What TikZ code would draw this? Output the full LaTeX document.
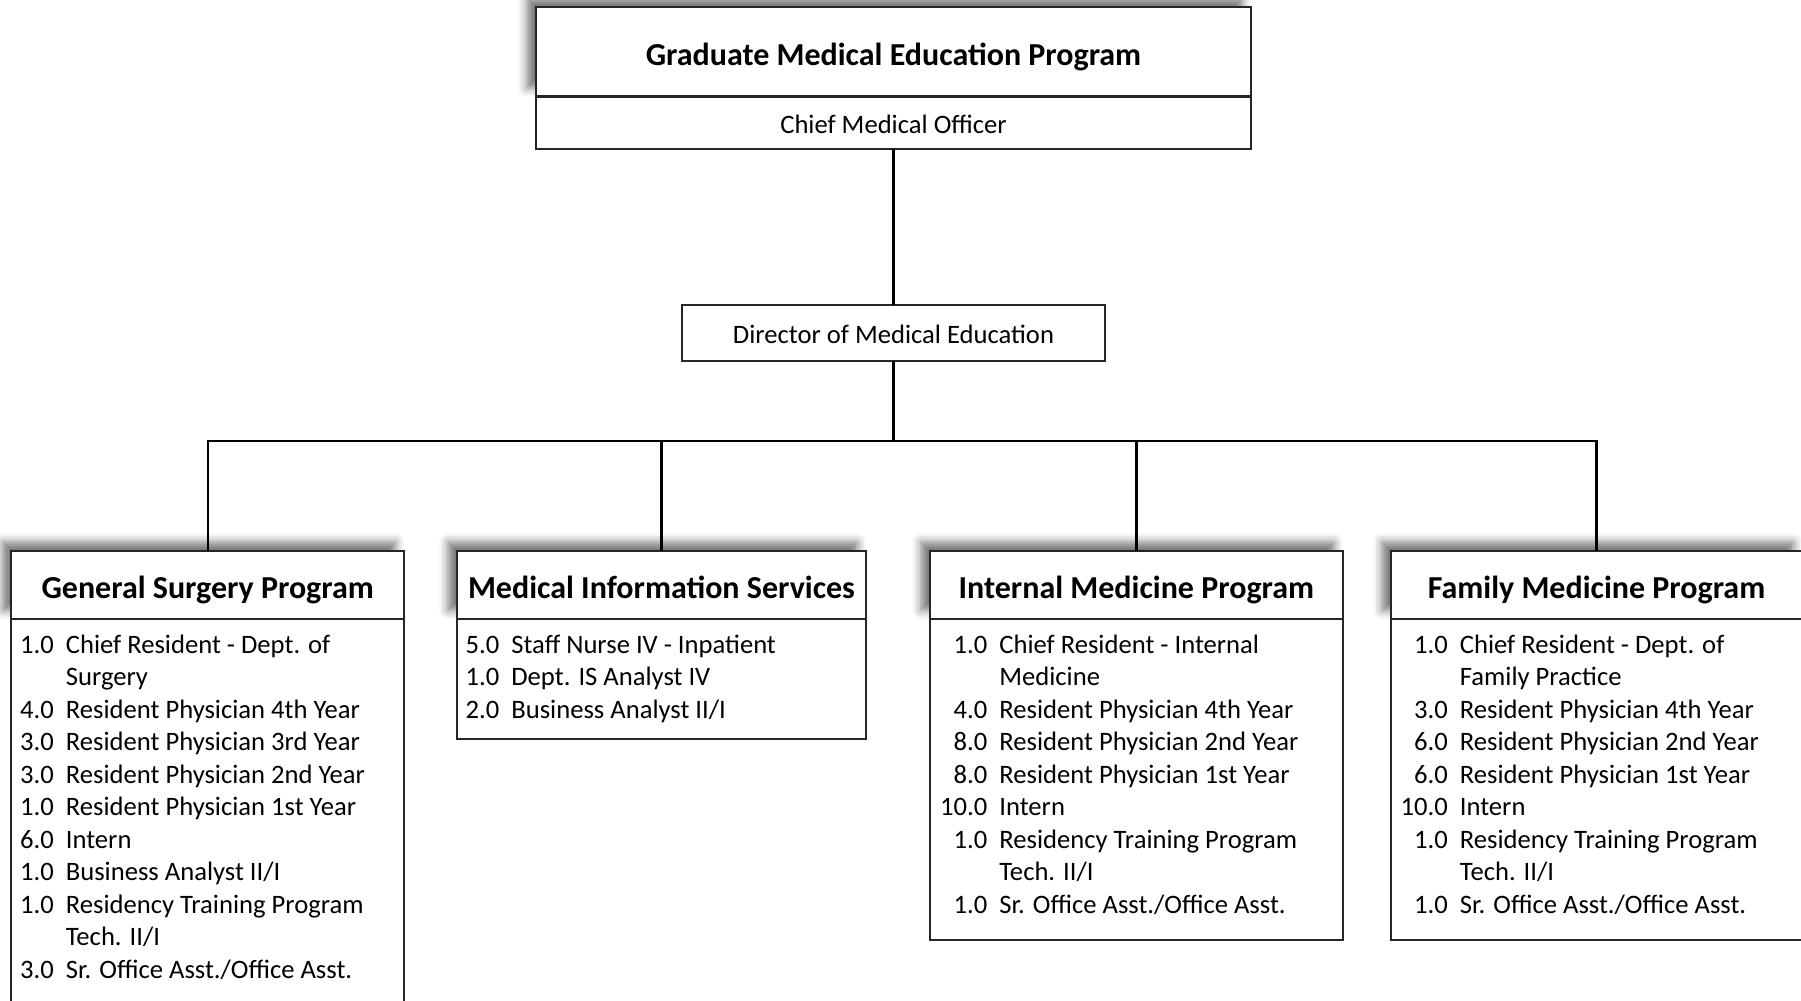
\documentclass[tikz,border=0pt]{standalone}
\usepackage{fontspec}
\setmainfont{Carlito}
\usepackage{array}
\usetikzlibrary{positioning, shadows.blur}
\colorlet{boxline}{black!85}

\newcommand{\listfont}{\fontsize{7.57}{9.25}\selectfont}
\newcommand{\headfont}{\fontsize{9.1}{11}\selectfont\bfseries}

\begin{document}
\begin{tikzpicture}[x=0.01cm, y=-0.01cm,
    box/.style={draw=boxline, line width=0.6pt, fill=white, inner sep=0pt, outer sep=0pt},
    headbox/.style={box, font=\headfont, text height=7.6pt, text depth=0pt,
      blur shadow={shadow xshift=-2.5pt, shadow yshift=2.5pt, shadow blur radius=2.5pt, shadow opacity=55}},
    plainbox/.style={box, font=\listfont, text height=6pt, text depth=0pt},
    staff/.style={anchor=base west, inner sep=0pt, font=\listfont},
    link/.style={draw=black, line width=0.7pt}]
    \useasboundingbox (0,0) rectangle (1801,1001);

    % --- Top: program and its officer
    \node[headbox, minimum width=7.15cm, minimum height=0.895cm] (gme) at (893.5, 51.75) {Graduate Medical Education Program};
    \node[plainbox, minimum width=7.15cm, minimum height=0.525cm, anchor=north] (cmo) at (gme.south) {Chief Medical Officer};

    % --- Middle: director
    \node[plainbox, minimum width=4.23cm, minimum height=0.552cm] (dme) at (893.5, 333) {Director of Medical Education};

    % --- General Surgery (runs off the bottom edge)
    \node[headbox, minimum width=3.925cm, minimum height=0.68cm] (gs) at (207.75, 585) {General Surgery Program};
    \node[box, minimum width=3.925cm, minimum height=3.95cm, anchor=north] (gsbody) at (gs.south) {};
    \node[staff] (gslist) at (19.5, 653) {\begin{tabular}[t]{@{}r@{\hspace{3.4pt}}l@{}}
      1.0 & Chief Resident - Dept. of\\
          & Surgery\\
      4.0 & Resident Physician 4th Year\\
      3.0 & Resident Physician 3rd Year\\
      3.0 & Resident Physician 2nd Year\\
      1.0 & Resident Physician 1st Year\\
      6.0 & Intern\\
      1.0 & Business Analyst II/I\\
      1.0 & Residency Training Program\\
          & Tech. II/I\\
      3.0 & Sr. Office Asst./Office Asst.
    \end{tabular}};

    % --- Medical Information Services
    \node[headbox, minimum width=4.09cm, minimum height=0.68cm] (mis) at (661.5, 585) {Medical Information Services};
    \node[box, minimum width=4.09cm, minimum height=1.195cm, anchor=north] (misbody) at (mis.south) {};
    \node[staff] (mislist) at (465, 653) {\begin{tabular}[t]{@{}r@{\hspace{3.4pt}}l@{}}
      5.0 & Staff Nurse IV - Inpatient\\
      1.0 & Dept. IS Analyst IV\\
      2.0 & Business Analyst II/I
    \end{tabular}};

    % --- Internal Medicine
    \node[headbox, minimum width=4.127cm, minimum height=0.68cm] (im) at (1136.4, 585) {Internal Medicine Program};
    \node[box, minimum width=4.127cm, minimum height=3.205cm, anchor=north] (imbody) at (im.south) {};
    \node[staff] (imlist) at (939.5, 653) {\begin{tabular}[t]{@{}r@{\hspace{3.4pt}}l@{}}
      1.0 & Chief Resident - Internal\\
          & Medicine\\
      4.0 & Resident Physician 4th Year\\
      8.0 & Resident Physician 2nd Year\\
      8.0 & Resident Physician 1st Year\\
      10.0 & Intern\\
      1.0 & Residency Training Program\\
          & Tech. II/I\\
      1.0 & Sr. Office Asst./Office Asst.
    \end{tabular}};

    % --- Family Medicine (right edge off the page)
    \node[headbox, minimum width=4.11cm, minimum height=0.68cm] (fm) at (1596.5, 585) {Family Medicine Program};
    \node[box, minimum width=4.11cm, minimum height=3.205cm, anchor=north] (fmbody) at (fm.south) {};
    \node[staff] (fmlist) at (1400, 653) {\begin{tabular}[t]{@{}r@{\hspace{3.4pt}}l@{}}
      1.0 & Chief Resident - Dept. of\\
          & Family Practice\\
      3.0 & Resident Physician 4th Year\\
      6.0 & Resident Physician 2nd Year\\
      6.0 & Resident Physician 1st Year\\
      10.0 & Intern\\
      1.0 & Residency Training Program\\
          & Tech. II/I\\
      1.0 & Sr. Office Asst./Office Asst.
    \end{tabular}};

    % --- Connectors
    \coordinate (bus) at (893.5, 441);
    \draw[link] (cmo.south) -- (dme.north);
    \draw[link] (dme.south) -- (bus);
    \draw[link] (gs.north) |- (bus);
    \draw[link] (fm.north) |- (bus);
    \draw[link] (mis.north) -- (mis.north |- bus);
    \draw[link] (im.north) -- (im.north |- bus);
\end{tikzpicture}
\end{document}
